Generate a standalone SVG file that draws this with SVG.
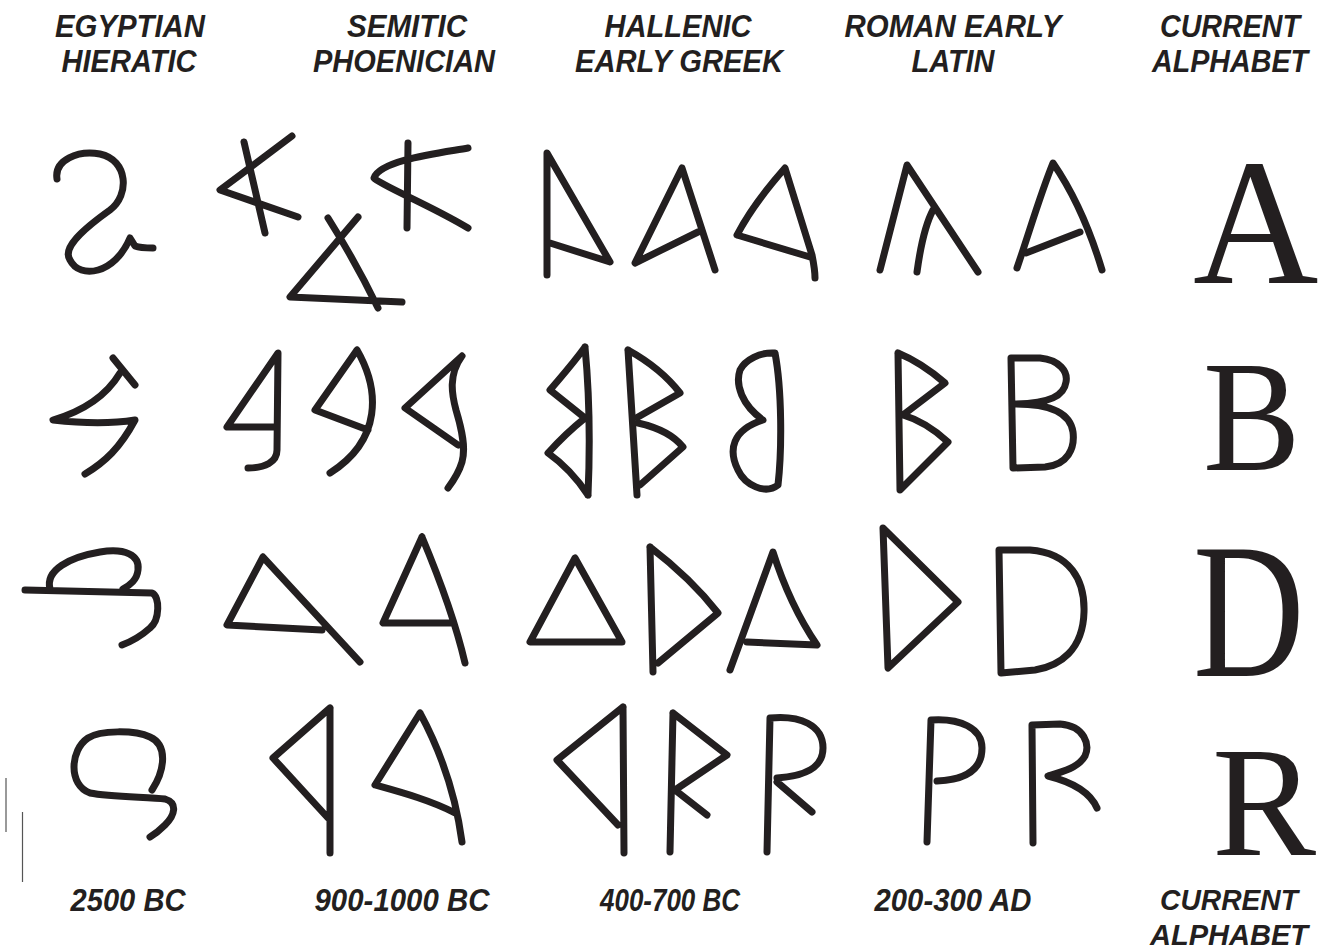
<svg xmlns="http://www.w3.org/2000/svg" width="1329" height="950" viewBox="0 0 1329 950">
<style>
.g{fill:none;stroke:#231f20;stroke-width:7;stroke-linecap:round;stroke-linejoin:round}
.h{font-family:"Liberation Sans",Arial,sans-serif;font-weight:bold;font-style:italic;font-size:32px;fill:#231f20;text-anchor:middle}
.f{font-size:30px}
.s{font-family:"Liberation Serif","Times New Roman",serif;fill:#231f20}
.m{stroke:#555;stroke-width:1.2}
</style>
<rect width="1329" height="950" fill="#fff"/>
<g id="headers">
<text class="h" x="130" y="37" textLength="150" lengthAdjust="spacingAndGlyphs">EGYPTIAN</text>
<text class="h" x="129" y="72" textLength="135" lengthAdjust="spacingAndGlyphs">HIERATIC</text>
<text class="h" x="407" y="37" textLength="120" lengthAdjust="spacingAndGlyphs">SEMITIC</text>
<text class="h" x="404" y="72" textLength="182" lengthAdjust="spacingAndGlyphs">PHOENICIAN</text>
<text class="h" x="678" y="37" textLength="147" lengthAdjust="spacingAndGlyphs">HALLENIC</text>
<text class="h" x="679" y="72" textLength="208" lengthAdjust="spacingAndGlyphs">EARLY GREEK</text>
<text class="h" x="953" y="37" textLength="217" lengthAdjust="spacingAndGlyphs">ROMAN EARLY</text>
<text class="h" x="953" y="72" textLength="83" lengthAdjust="spacingAndGlyphs">LATIN</text>
<text class="h" x="1230" y="37" textLength="140" lengthAdjust="spacingAndGlyphs">CURRENT</text>
<text class="h" x="1230" y="72" textLength="156" lengthAdjust="spacingAndGlyphs">ALPHABET</text>
</g>
<g id="footers">
<text class="h" x="128" y="911" textLength="115" lengthAdjust="spacingAndGlyphs">2500 BC</text>
<text class="h" x="402" y="911" textLength="175" lengthAdjust="spacingAndGlyphs">900-1000 BC</text>
<text class="h" x="670" y="911" textLength="140" lengthAdjust="spacingAndGlyphs">400-700 BC</text>
<text class="h" x="953" y="911" textLength="157" lengthAdjust="spacingAndGlyphs">200-300 AD</text>
<text class="h f" x="1229" y="910" textLength="138" lengthAdjust="spacingAndGlyphs">CURRENT</text>
<text class="h f" x="1229" y="945" textLength="158" lengthAdjust="spacingAndGlyphs">ALPHABET</text>
</g>
<g id="marks">
<line class="m" x1="6" y1="778" x2="6" y2="832"/>
<line class="m" x1="22.5" y1="812" x2="22.5" y2="882"/>
</g>
<!-- Row A -->
<g id="a-egyptian"><path class="g" d="M57,179 C54,160 78,150 100,154 C128,160 130,195 110,210 C82,230 62,248 70,260 C80,280 115,274 130,238 L135,246 C140,248 145,248 153,248"/></g>
<g id="a-semitic"><path class="g" d="M244,142 L265,233 M292,136 L220,190 L298,217 M328,218 C345,245 362,275 378,308 M358,217 L290,297 L402,302 M408,143 L407,228 M468,148 C440,153 380,160 374,178 C380,185 430,205 468,228"/></g>
<g id="a-greek"><path class="g" d="M547,275 L547,153 L610,262 L550,243 M698,232 L635,263 L682,168 L715,270 M737,235 C750,210 770,185 785,168 L812,255 C814,265 815,270 815,278 M737,235 L810,257"/></g>
<g id="a-latin"><path class="g" d="M880,270 L907,165 L978,272 M917,272 C920,250 925,225 933,210 M1017,268 C1030,230 1040,195 1053,163 C1075,195 1090,230 1102,270 M1026,253 L1080,232"/></g>
<g id="a-current"><text class="s" transform="translate(1193,283) scale(0.96,1)" font-size="181">A</text></g>
<!-- Row B -->
<g id="b-egyptian"><path class="g" d="M113,358 L135,385 M120,373 C105,398 80,412 53,420 C80,423 110,424 135,420 C120,448 105,462 85,474"/></g>
<g id="b-semitic"><path class="g" d="M248,468 C265,468 277,462 277,450 L278,353 L227,427 L277,427 M357,350 L315,410 L368,430 M357,350 C380,390 382,440 330,473 M462,356 L405,408 L458,445 M462,356 C448,375 452,395 456,410 C462,430 466,448 462,462 C459,472 454,480 448,488"/></g>
<g id="b-greek"><path class="g" d="M585,347 C590,400 590,450 588,495 M585,347 C572,365 560,378 550,390 L585,418 C570,430 558,442 548,453 C565,465 578,480 588,495 M628,350 L637,495 M628,350 C655,365 670,380 680,393 L638,417 M638,423 C660,428 675,437 683,447 L640,485 M775,353 C782,390 782,450 778,485 C765,495 745,485 738,470 C728,450 732,430 763,420 C742,405 735,385 740,370 C745,360 760,352 775,353 Z"/></g>
<g id="b-latin"><path class="g" d="M898,353 L900,490 L948,442 C935,430 920,420 903,415 L945,383 C930,370 915,360 898,353 M1011,358 L1013,468 L1045,467 C1068,465 1075,448 1073,432 C1070,412 1050,404 1016,404 M1011,358 L1040,358 C1060,360 1068,372 1066,382 C1064,396 1050,403 1016,404"/></g>
<g id="b-current"><text class="s" transform="translate(1203,470) scale(0.92,1)" font-size="159">B</text></g>
<!-- Row D -->
<g id="d-egyptian"><path class="g" d="M25,590 L152,593 C160,596 160,620 150,628 C140,637 130,642 122,645 M50,589 C45,570 70,557 100,552 C125,548 140,555 138,570 C137,580 130,585 123,589"/></g>
<g id="d-semitic"><path class="g" d="M263,557 L227,625 L322,630 M263,557 L360,662 M422,537 L383,623 L450,623 M422,537 C440,580 455,620 465,663"/></g>
<g id="d-greek"><path class="g" d="M575,558 L530,642 L622,642 Z M650,547 L653,672 M650,547 C680,570 700,590 718,613 L658,663 M730,670 L773,552 C785,590 800,620 817,645 L747,642"/></g>
<g id="d-latin"><path class="g" d="M888,668 L883,528 L958,602 Z M999,550 L1001,673 L1035,670 C1060,666 1083,650 1084,612 C1085,580 1070,553 1030,550 Z"/></g>
<g id="d-current"><text class="s" transform="translate(1193,676) scale(0.8,1)" font-size="193">D</text></g>
<!-- Row R -->
<g id="r-egyptian"><path class="g" d="M152,790 C165,770 168,745 150,737 C135,730 100,730 88,738 C70,750 68,785 90,793 C110,797 150,797 165,799 C178,803 175,815 165,825 C160,830 155,834 150,837"/></g>
<g id="r-semitic"><path class="g" d="M330,708 L330,853 M330,708 L273,758 L328,818 M420,713 L375,785 C400,792 430,800 455,813 M420,713 C440,750 455,790 462,842"/></g>
<g id="r-greek"><path class="g" d="M623,707 L624,853 M623,707 L557,760 L618,825 M673,713 L670,852 M673,713 L727,755 L675,790 L707,815 M767,852 L770,718 C800,715 823,725 823,748 C823,768 805,776 777,778 M777,782 L812,812"/></g>
<g id="r-latin"><path class="g" d="M927,842 L931,720 C960,718 982,728 982,748 C982,772 962,780 937,781 M1033,843 L1032,725 L1060,724 C1085,726 1090,745 1085,756 C1078,768 1062,772 1048,776 C1072,782 1090,792 1097,808"/></g>
<g id="r-current"><text class="s" transform="translate(1212,855)" font-size="156">R</text></g>
</svg>
